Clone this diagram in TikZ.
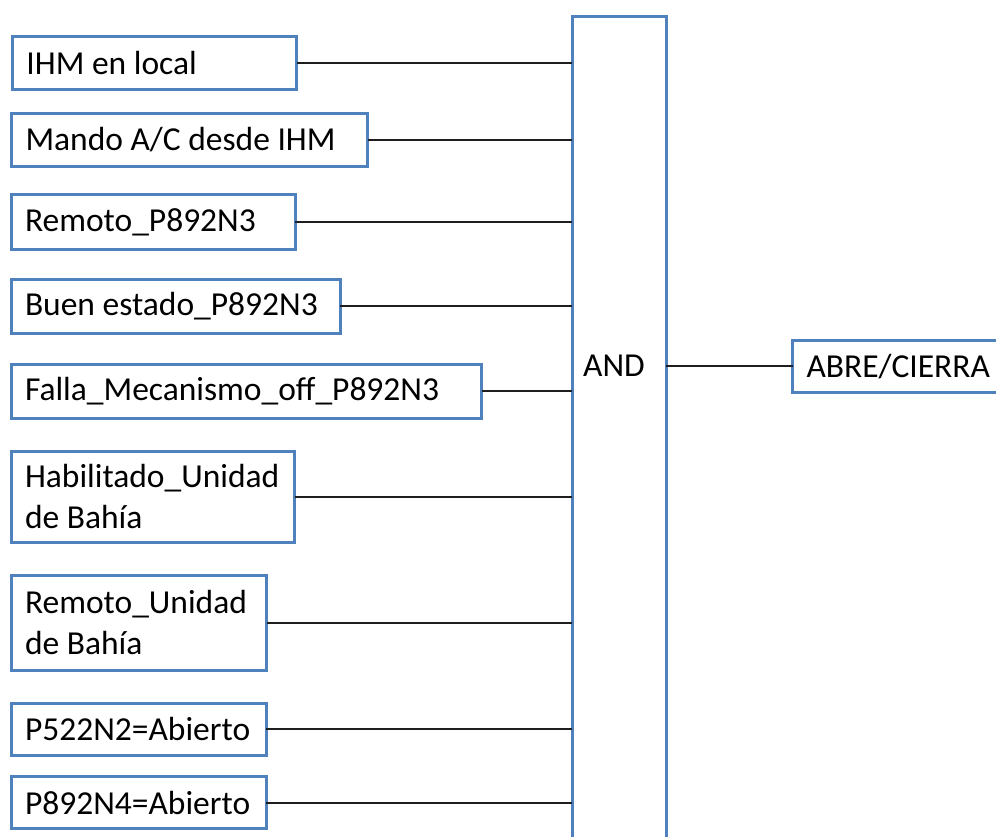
\documentclass[tikz,border=0pt]{standalone}
\usepackage{fontspec}
\setmainfont{Carlito}
\definecolor{boxblue}{RGB}{79,129,189}
\definecolor{wire}{RGB}{30,30,30}
\begin{document}
\begin{tikzpicture}[x=1pt,y=-1pt,
  font=\fontsize{33.5}{41}\selectfont,
  inbox/.style={draw=boxblue, line width=3pt, outer sep=0pt, anchor=north west,
    inner xsep=14pt, inner ysep=0pt, align=flush left, text depth=, text height=},
  gatebox/.style={draw=boxblue, line width=3pt, outer sep=0pt, anchor=north west, inner sep=0pt},
  link/.style={draw=wire, line width=2pt}]
\useasboundingbox (0,0) rectangle (996,837);
\clip (0,0) rectangle (996,837);

% input signals
\node[inbox, text width=284pt-28pt, minimum height=53.5pt] (in1) at (12.5,36.5) {IHM en local};
\node[inbox, text width=356pt-28pt, minimum height=53pt] (in2) at (11.5,113.5) {Mando A/C desde IHM};
\node[inbox, text width=284pt-28pt, minimum height=54.5pt] (in3) at (11,195) {Remoto\_P892N3};
\node[inbox, text width=329pt-28pt, minimum height=54.5pt] (in4) at (11,279) {Buen estado\_P892N3};
\node[inbox, text width=470.5pt-28pt, minimum height=53.5pt] (in5) at (11,364.5) {Falla\_Mecanismo\_off\_P892N3};
\node[inbox, text width=283.5pt-28pt, minimum height=91pt] (in6) at (11,451) {Habilitado\_Unidad\\de Bahía};
\node[inbox, text width=255.5pt-28pt, minimum height=94.5pt] (in7) at (11,575.5) {Remoto\_Unidad\\de Bahía};
\node[inbox, text width=255pt-28pt, minimum height=51.5pt] (in8) at (11,703.5) {P522N2=Abierto};
\node[inbox, text width=255pt-28pt, minimum height=52pt] (in9) at (11,776.5) {P892N4=Abierto};

% AND gate block (runs past the lower edge)
\node[gatebox, minimum width=94pt, minimum height=900pt] (gate) at (572,16.5) {};
\node (gatelbl) at (614,366) {AND};

% output
\node[inbox, text width=230pt-28pt, minimum height=52.5pt] (out) at (792.5,340) {ABRE/CIERRA};

% wiring
\foreach \n in {in1,in2,in3,in4,in5,in6,in7,in8,in9}
  \draw[link] (\n.east) -- (\n.east -| gate.west);
\draw[link] (out.west -| gate.east) -- (out.west);
\end{tikzpicture}
\end{document}
